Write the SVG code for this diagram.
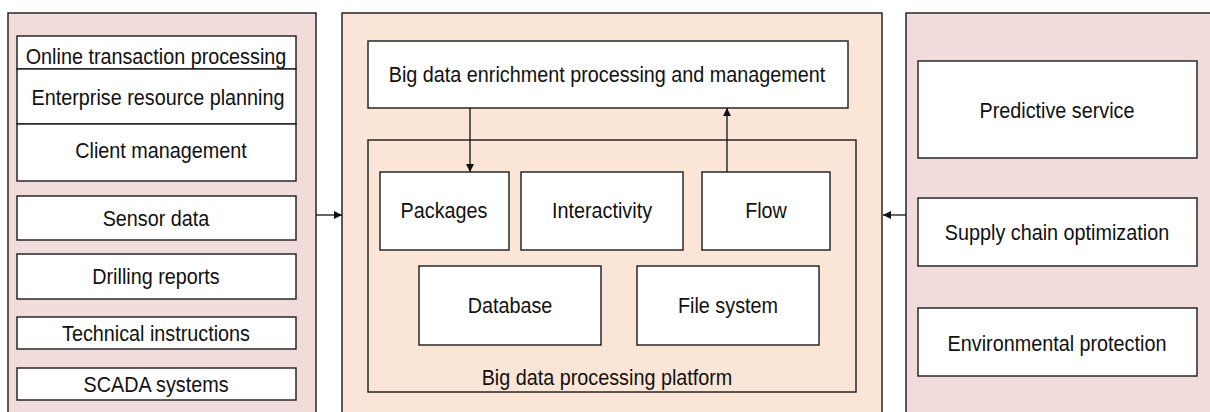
<svg xmlns="http://www.w3.org/2000/svg" width="1210" height="412" viewBox="0 0 1210 412">
  <style>
    .panel-side { fill: #f2dcdb; stroke: #262626; stroke-width: 1.5; }
    .panel-mid { fill: #fbe5d6; stroke: #262626; stroke-width: 1.5; }
    .box { fill: #ffffff; stroke: #1a1a1a; stroke-width: 1.4; }
    .frame { fill: none; stroke: #1a1a1a; stroke-width: 1.4; }
    .label { font-family: "Liberation Sans", Arial, sans-serif; font-size: 22px; fill: #111; text-anchor: middle; }
    .conn { fill: none; stroke: #111; stroke-width: 1.3; }
  </style>
  <defs>
    <marker id="arrow" viewBox="0 0 10 10" refX="10" refY="5" markerWidth="9" markerHeight="8" markerUnits="userSpaceOnUse" orient="auto">
      <path d="M0,0 L10,5 L0,10 Z" fill="#111"/>
    </marker>
  </defs>

  <!-- Panels -->
  <rect id="panel-sources" class="panel-side" x="8" y="13" width="308" height="420"/>
  <rect id="panel-platform" class="panel-mid" x="342" y="13" width="540" height="420"/>
  <rect id="panel-services" class="panel-side" x="906" y="13" width="320" height="420"/>

  <!-- Data sources (labels narrowed horizontally for a condensed look) -->
  <g id="node-oltp">
    <rect class="box" x="17" y="36" width="279" height="33"/>
    <text class="label" transform="translate(156,64) scale(0.9,1)">Online transaction processing</text>
  </g>
  <g id="node-erp">
    <rect class="box" x="17" y="69" width="279" height="55"/>
    <text class="label" transform="translate(158,105) scale(0.9,1)">Enterprise resource planning</text>
  </g>
  <g id="node-client">
    <rect class="box" x="17" y="124" width="279" height="57"/>
    <text class="label" transform="translate(161,158) scale(0.9,1)">Client management</text>
  </g>
  <g id="node-sensor">
    <rect class="box" x="17" y="196" width="279" height="44"/>
    <text class="label" transform="translate(156,226) scale(0.9,1)">Sensor data</text>
  </g>
  <g id="node-drilling">
    <rect class="box" x="17" y="254" width="279" height="45"/>
    <text class="label" transform="translate(156,284) scale(0.9,1)">Drilling reports</text>
  </g>
  <g id="node-technical">
    <rect class="box" x="17" y="317" width="279" height="32"/>
    <text class="label" transform="translate(156,341) scale(0.9,1)">Technical instructions</text>
  </g>
  <g id="node-scada">
    <rect class="box" x="17" y="368" width="279" height="32"/>
    <text class="label" transform="translate(156,392) scale(0.9,1)">SCADA systems</text>
  </g>

  <!-- Processing platform -->
  <g id="node-enrichment">
    <rect class="box" x="368" y="41" width="480" height="67"/>
    <text class="label" transform="translate(607,82) scale(0.9,1)">Big data enrichment processing and management</text>
  </g>
  <g id="node-platform">
    <rect class="frame" x="368" y="140" width="488" height="252"/>
    <text class="label" transform="translate(607,385) scale(0.9,1)">Big data processing platform</text>
  </g>
  <g id="node-packages">
    <rect class="box" x="380" y="172" width="129" height="78"/>
    <text class="label" transform="translate(444,218) scale(0.9,1)">Packages</text>
  </g>
  <g id="node-interactivity">
    <rect class="box" x="521" y="172" width="162" height="78"/>
    <text class="label" transform="translate(602,218) scale(0.9,1)">Interactivity</text>
  </g>
  <g id="node-flow">
    <rect class="box" x="702" y="172" width="128" height="78"/>
    <text class="label" transform="translate(766,218) scale(0.9,1)">Flow</text>
  </g>
  <g id="node-database">
    <rect class="box" x="419" y="266" width="182" height="79"/>
    <text class="label" transform="translate(510,313) scale(0.9,1)">Database</text>
  </g>
  <g id="node-filesystem">
    <rect class="box" x="637" y="266" width="182" height="79"/>
    <text class="label" transform="translate(728,313) scale(0.9,1)">File system</text>
  </g>

  <!-- Services -->
  <g id="node-predictive">
    <rect class="box" x="918" y="61" width="279" height="97"/>
    <text class="label" transform="translate(1057,118) scale(0.9,1)">Predictive service</text>
  </g>
  <g id="node-supply">
    <rect class="box" x="918" y="198" width="279" height="68"/>
    <text class="label" transform="translate(1057,240) scale(0.9,1)">Supply chain optimization</text>
  </g>
  <g id="node-environment">
    <rect class="box" x="918" y="308" width="279" height="68"/>
    <text class="label" transform="translate(1057,351) scale(0.9,1)">Environmental protection</text>
  </g>

  <!-- Connectors -->
  <g id="connectors">
    <line class="conn" x1="316" y1="215" x2="342" y2="215" marker-end="url(#arrow)"/>
    <line class="conn" x1="906" y1="215" x2="883" y2="215" marker-end="url(#arrow)"/>
    <line class="conn" x1="470" y1="108" x2="470" y2="172" marker-end="url(#arrow)"/>
    <line class="conn" x1="727" y1="172" x2="727" y2="108" marker-end="url(#arrow)"/>
  </g>
</svg>
